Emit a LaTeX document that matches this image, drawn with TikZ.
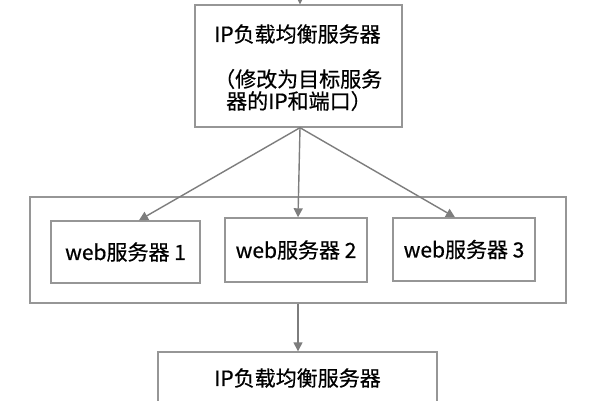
\documentclass[tikz,border=0pt]{standalone}
\usepackage{fontspec}
\setmainfont[FakeBold=0.6]{Noto Sans CJK SC}
\usetikzlibrary{arrows.meta}
\definecolor{boxc}{RGB}{150,150,150}
\definecolor{arrc}{RGB}{125,125,125}
\begin{document}
\begin{tikzpicture}[x=1pt,y=-1pt,
  box/.style={draw=boxc,line width=1.4pt,inner sep=0pt},
  conn/.style={draw=arrc,line width=1.4pt,-{Triangle[length=9pt,width=9pt]}},
  lab/.style={font=\fontsize{21}{25}\selectfont,text=black,inner sep=0pt}]
\useasboundingbox (0,0) rectangle (600,400);
\clip (0,0) rectangle (600,400);
\fill[white] (0,0) rectangle (600,400);
% top box
\node[box,minimum width=207pt,minimum height=122pt] (top) at (298.5,66) {};
\node[lab,anchor=west] (t1) at (214,34) {IP负载均衡服务器};
\node[lab,anchor=west] (t2) at (214,79) {（修改为目标服务};
\node[lab,anchor=west] (t3) at (226,101) {器的IP和端口）};
% container with web servers
\node[box,minimum width=536pt,minimum height=106pt] (outer) at (298,250) {};
\node[box,lab,minimum width=149pt,minimum height=62pt] (w1) at (125.5,252) {web服务器 1};
\node[box,lab,minimum width=142pt,minimum height=64pt] (w2) at (296,250) {web服务器 2};
\node[box,lab,minimum width=142pt,minimum height=63pt] (w3) at (464,249.5) {web服务器 3};
% bottom box
\node[box,lab,minimum width=279pt,minimum height=52pt] (bot) at (297.5,378) {IP负载均衡服务器};
% connectors
\coordinate (in) at (300,0);
\draw[conn] (in) -- (in |- top.north);
\draw[conn] ([xshift=1.5pt]top.south) -- ([xshift=13.5pt]w1.north);
\draw[conn] ([xshift=1.5pt]top.south) -- ([xshift=2pt]w2.north);
\draw[conn] ([xshift=1.5pt]top.south) -- ([xshift=-9pt]w3.north);
\draw[conn] (outer.south) -- (outer.south |- bot.north);
\end{tikzpicture}
\end{document}
